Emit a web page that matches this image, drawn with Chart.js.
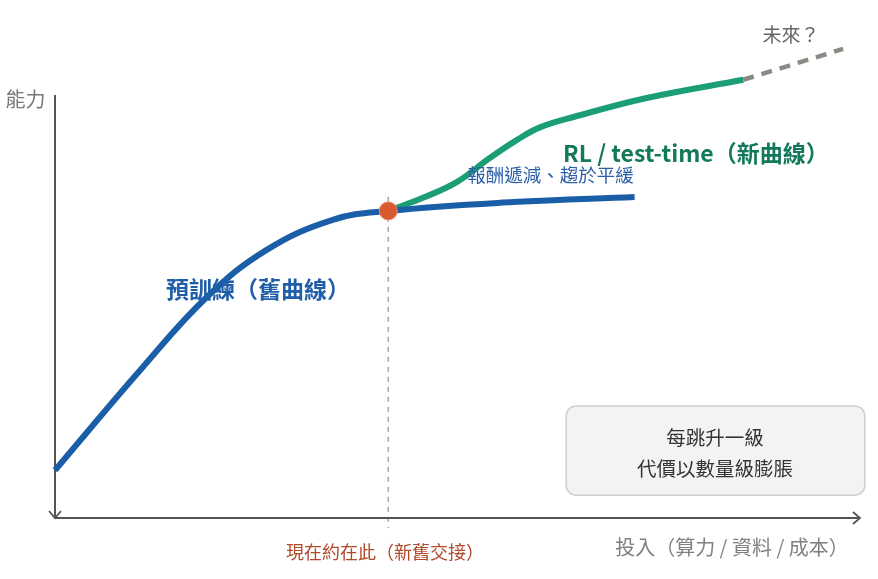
<!DOCTYPE html>
<html><head><meta charset="utf-8">
<script src="https://cdn.jsdelivr.net/npm/chart.js@4/dist/chart.umd.min.js"></script>
<style>html,body{margin:0;padding:0;background:#fff;overflow:hidden}</style>
</head><body>
<canvas id="c" width="878" height="579"></canvas>
<script>
// Pre-training (old curve)
const oldX = [0, 10.6, 18.9, 26.3, 34.5, 41.4, 56.9, 72.0];
const oldY = [11.3, 35.0, 52.3, 63.4, 70.5, 72.6, 74.7, 75.9];
// RL / test-time (new curve)
const newX = [41.4, 45.7, 49.9, 54.0, 57.4, 60.3, 64.4, 73.5, 85.5];
const newY = [72.6, 75.7, 79.4, 85.1, 89.4, 92.4, 94.8, 99.3, 103.6];
// Future (dashed)
const futureX = [85.5, 97.9];
const futureY = [103.6, 110.9];
// Crossover point
const nowX = [41.4];
const nowY = [72.6];

const axisTitles = ['能力', '投入（算力 / 資料 / 成本）'];
const seriesLabels = ['預訓練（舊曲線）', 'RL / test-time（新曲線）', '報酬遞減、趨於平緩', '未來？', '現在約在此（新舊交接）'];
const noteLines = ['每跳升一級', '代價以數量級膨脹'];

const pts = (xs, ys) => xs.map((x, i) => ({x, y: ys[i]}));
const FONT = '"Noto Sans CJK TC", "Noto Sans CJK SC", "Noto Sans", sans-serif';

const decor = {
  id: 'decor',
  beforeDatasetsDraw(chart) {
    const {ctx, chartArea: a, scales: {x, y}} = chart;
    ctx.save();
    // vertical guide
    const gx = x.getPixelForValue(nowX[0]);
    ctx.strokeStyle = '#a8a8a8';
    ctx.lineWidth = 1.5;
    ctx.setLineDash([5, 5]);
    ctx.beginPath();
    ctx.moveTo(gx, y.getPixelForValue(nowY[0]) - 14);
    ctx.lineTo(gx, a.bottom + 10);
    ctx.stroke();
    ctx.setLineDash([]);
    // axes
    ctx.strokeStyle = '#555';
    ctx.lineWidth = 2;
    ctx.beginPath();
    ctx.moveTo(a.left, a.top);
    ctx.lineTo(a.left, a.bottom);
    ctx.moveTo(a.left, a.bottom);
    ctx.lineTo(a.right, a.bottom);
    ctx.stroke();
    ctx.lineWidth = 1.8;
    ctx.beginPath();
    ctx.moveTo(a.left - 6, a.bottom - 7);
    ctx.lineTo(a.left, a.bottom);
    ctx.lineTo(a.left + 6, a.bottom - 7);
    ctx.moveTo(a.right - 7, a.bottom - 6);
    ctx.lineTo(a.right, a.bottom);
    ctx.lineTo(a.right - 7, a.bottom + 6);
    ctx.stroke();
    // note box
    const bx0 = x.getPixelForValue(63.5), bx1 = x.getPixelForValue(100.6);
    const by0 = y.getPixelForValue(26.5), by1 = y.getPixelForValue(5.4);
    ctx.fillStyle = '#f3f3f1';
    ctx.strokeStyle = '#cfcfcf';
    ctx.lineWidth = 1.5;
    ctx.beginPath();
    ctx.roundRect(bx0, by0, bx1 - bx0, by1 - by0, 10);
    ctx.fill();
    ctx.stroke();
    ctx.restore();
  },
  afterDatasetsDraw(chart) {
    const {ctx, scales: {x, y}} = chart;
    const t = (s, xv, yv, font, color, align) => {
      ctx.font = font + ' ' + FONT;
      ctx.fillStyle = color;
      ctx.textAlign = align;
      ctx.textBaseline = 'middle';
      ctx.fillText(s, x.getPixelForValue(xv), y.getPixelForValue(yv));
    };
    ctx.save();
    t(axisTitles[0], -3.66, 99.05, '20px', '#777', 'center');
    t(axisTitles[1], 98.6, -6.86, '20px', '#808080', 'right');
    t(seriesLabels[0], 13.8, 54.1, 'bold 23px', '#1f5ea8', 'left');
    t(seriesLabels[1], 63.1, 86.3, 'bold 23px', '#13795a', 'left');
    t(seriesLabels[2], 51.2, 81.1, '18.5px', '#2a5fa8', 'left');
    t(seriesLabels[3], 87.9, 114.2, '19px', '#666', 'left');
    t(seriesLabels[4], nowX[0] - 0.4, -8.04, '18px', '#b0482a', 'center');
    t(noteLines[0], 82.0, 19.1, '19.5px', '#333', 'center');
    t(noteLines[1], 82.0, 11.6, '19.5px', '#333', 'center');
    ctx.restore();
  }
};

new Chart(document.getElementById('c'), {
  type: 'line',
  data: {
    datasets: [
      {data: pts(nowX, nowY), showLine: false, pointRadius: 9, pointHoverRadius: 9,
       pointBackgroundColor: '#d95a2f', pointBorderColor: '#e8876a', pointBorderWidth: 1, clip: false},
      {data: pts(oldX, oldY), borderColor: '#1a5ea8', borderWidth: 6, pointRadius: 0,
       tension: 0.4, fill: false, clip: false},
      {data: pts(newX, newY), borderColor: '#1b9e75', borderWidth: 6, pointRadius: 0,
       tension: 0.4, fill: false, clip: false},
      {data: pts(futureX, futureY), borderColor: '#8b8b84', borderWidth: 4.5, borderDash: [11, 8],
       pointRadius: 0, fill: false, clip: false}
    ]
  },
  options: {
    responsive: false,
    animation: false,
    devicePixelRatio: 1,
    layout: {padding: {left: 55, right: 18, top: 95, bottom: 61}},
    plugins: {legend: {display: false}, tooltip: {enabled: false}},
    scales: {
      x: {type: 'linear', min: 0, max: 100, display: false},
      y: {type: 'linear', min: 0, max: 100, display: false}
    }
  },
  plugins: [decor]
});
</script>
</body></html>
